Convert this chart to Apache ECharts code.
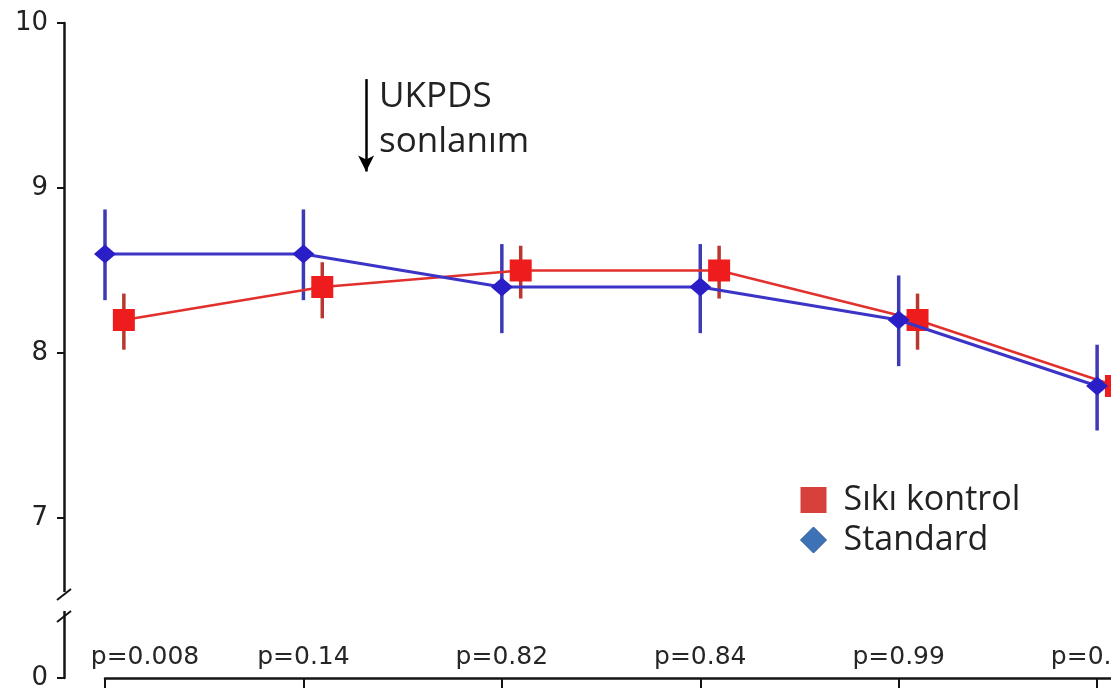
<!DOCTYPE html>
<html>
<head>
<meta charset="utf-8">
<title>HbA1c</title>
<script src="https://cdn.jsdelivr.net/npm/echarts@6/dist/echarts.min.js"></script>
<style>
  html, body { margin: 0; padding: 0; background: #ffffff; }
  #chart { width: 1111px; height: 688px; }
</style>
</head>
<body>
<div id="chart"></div>
<script>
// Visit index along the horizontal axis
const visits = [0, 1, 2, 3, 4, 5];
// p-values printed above each visit
const pValues = ['p=0.008', 'p=0.14', 'p=0.82', 'p=0.84', 'p=0.99', 'p=0.86'];

// Sıkı kontrol (tight control): mean with error-bar limits
const sikiMean = [8.2, 8.4, 8.5, 8.5, 8.2, 7.8];
const sikiLow  = [8.02, 8.21, 8.33, 8.33, 8.02, 7.63];
const sikiHigh = [8.36, 8.55, 8.65, 8.65, 8.36, 7.97];

// Standard: mean with error-bar limits
const stdMean = [8.6, 8.6, 8.4, 8.4, 8.2, 7.8];
const stdLow  = [8.32, 8.32, 8.12, 8.12, 7.92, 7.53];
const stdHigh = [8.87, 8.87, 8.66, 8.66, 8.47, 8.05];

// Y ticks (the lowest one sits below the axis break and reads 0)
const yTickValues = [6.03, 7, 8, 9, 10];
const yTickLabels = ['0', '7', '8', '9', '10'];

// Annotation: end of UKPDS
const ukpdsAt = 1.316;
const ukpdsArrowFrom = 9.66;
const ukpdsArrowTo = 9.1;

// The tight-control group is nudged right so both groups stay readable
const SIKI_SHIFT = 0.095;

const RED = '#ee1c1c';
const RED_LINE = '#e2302c';
const RED_BAR = '#b8372f';
const BLUE = '#2a1fc6';
const BLUE_LINE = '#3b34c6';
const BLUE_BAR = '#3e3ab4';

const chart = echarts.init(document.getElementById('chart'), null, { renderer: 'canvas' });

function errorBars(xs, lows, highs, shift, color) {
  return {
    type: 'custom',
    silent: true,
    z: 1,
    clip: false,
    data: xs.map((x, i) => [x + shift, lows[i], highs[i]]),
    renderItem(params, api) {
      const a = api.coord([api.value(0), api.value(1)]);
      const b = api.coord([api.value(0), api.value(2)]);
      return {
        type: 'line',
        shape: { x1: a[0], y1: a[1], x2: b[0], y2: b[1] },
        style: { stroke: color, lineWidth: 3.5 }
      };
    }
  };
}

const pFont = { fontFamily: 'DejaVu Sans', fontSize: 25, color: '#262626' };

const option = {
  backgroundColor: '#ffffff',
  animation: false,
  grid: { left: 105, right: 0, top: 23, bottom: 10, containLabel: false, outerBoundsMode: 'none' },
  xAxis: {
    type: 'value',
    min: 0,
    max: 5.07,
    splitLine: { show: false },
    axisLine: { show: true, onZero: false, lineStyle: { color: '#141414', width: 2.5 } },
    axisTick: { show: true, customValues: visits, length: 12, inside: false, lineStyle: { color: '#141414', width: 2 } },
    axisLabel: {
      show: true,
      inside: true,
      margin: 8,
      customValues: visits,
      ...pFont,
      formatter(v) {
        const i = visits.indexOf(Math.round(v));
        if (i < 0) return '';
        return i === 0 ? '{first|' + pValues[i] + '}' : pValues[i];
      },
      rich: { first: { ...pFont, padding: [0, 0, 0, 80] } }
    }
  },
  yAxis: {
    type: 'value',
    min: yTickValues[0],
    max: 10,
    offset: 41,
    splitLine: { show: false },
    axisLine: { show: true, onZero: false, lineStyle: { color: '#141414', width: 2.5 } },
    axisTick: { show: true, customValues: yTickValues, length: 7, lineStyle: { color: '#141414', width: 2 } },
    axisLabel: {
      customValues: yTickValues,
      margin: 16,
      fontFamily: 'DejaVu Sans',
      fontSize: 26,
      color: '#222222',
      formatter(v) {
        const i = yTickValues.findIndex(t => Math.abs(t - v) < 1e-6);
        return i < 0 ? '' : yTickLabels[i];
      }
    }
  },
  legend: {
    orient: 'vertical',
    left: 795,
    top: 478,
    itemWidth: 26,
    itemHeight: 26,
    itemGap: 6,
    selectedMode: false,
    textStyle: { fontFamily: 'Open Sans', fontSize: 34, color: '#222222', lineHeight: 30, padding: [0, 0, 0, 12] },
    data: [
      { name: 'Sıkı kontrol', icon: 'rect', itemStyle: { color: '#d8403c', borderWidth: 0 } },
      { name: 'Standard', icon: 'diamond', itemStyle: { color: '#3e72b6', borderColor: '#2b5796', borderWidth: 1 } }
    ]
  },
  graphic: [
    // break in the y axis
    { type: 'rect', shape: { x: 58, y: 592, width: 12, height: 19 }, style: { fill: '#ffffff' }, z: 100 },
    { type: 'line', shape: { x1: 57, y1: 600, x2: 71, y2: 589 }, style: { stroke: '#141414', lineWidth: 2 }, z: 101 },
    { type: 'line', shape: { x1: 57, y1: 622, x2: 71, y2: 611 }, style: { stroke: '#141414', lineWidth: 2 }, z: 101 },
    // UKPDS annotation text
    { type: 'text', left: 379, top: 80, style: { text: 'UKPDS', font: '35px "Open Sans"', fill: '#222222' }, z: 50 },
    { type: 'text', left: 379, top: 125, style: { text: 'sonlanım', font: '35px "Open Sans"', fill: '#222222' }, z: 50 }
  ],
  series: [
    errorBars(visits, sikiLow, sikiHigh, SIKI_SHIFT, RED_BAR),
    errorBars(visits, stdLow, stdHigh, 0, BLUE_BAR),
    {
      name: 'Sıkı kontrol',
      type: 'line',
      z: 3,
      clip: false,
      data: visits.map((x, i) => [x + SIKI_SHIFT, sikiMean[i]]),
      symbol: 'rect',
      symbolSize: 22,
      showAllSymbol: true,
      itemStyle: { color: RED },
      lineStyle: { color: RED_LINE, width: 2.5 }
    },
    {
      name: 'Standard',
      type: 'line',
      z: 4,
      clip: false,
      data: visits.map((x, i) => [x, stdMean[i]]),
      symbol: 'diamond',
      symbolSize: [22, 19],
      showAllSymbol: true,
      itemStyle: { color: BLUE },
      lineStyle: { color: BLUE_LINE, width: 3 },
      markLine: {
        silent: true,
        symbol: ['none', 'arrow'],
        symbolSize: [12, 16],
        label: { show: false },
        lineStyle: { color: '#000000', width: 2.5, type: 'solid' },
        data: [[{ coord: [ukpdsAt, ukpdsArrowFrom] }, { coord: [ukpdsAt, ukpdsArrowTo] }]]
      }
    }
  ]
};

chart.setOption(option);
</script>
</body>
</html>
